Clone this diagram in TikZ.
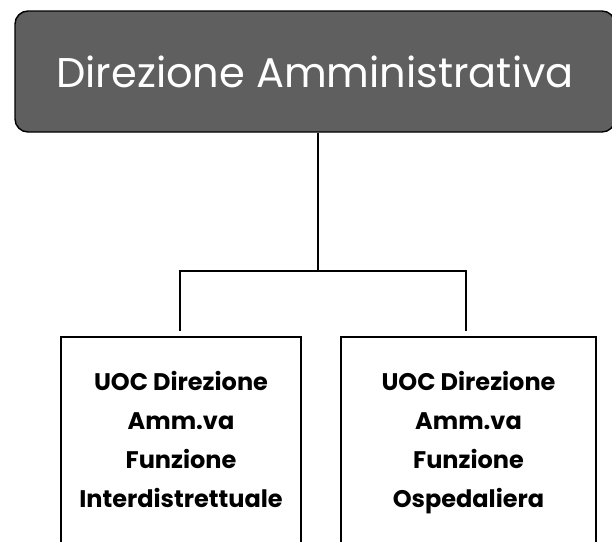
\documentclass[tikz,border=0pt]{standalone}
\usepackage{fontspec}
\setmainfont{Poppins}
\usetikzlibrary{calc}
\definecolor{headgray}{RGB}{95,95,95}
\begin{document}
	\begin{tikzpicture}[x=1pt, y=-1pt,
		head/.style={draw=black, line width=1.4pt, fill=headgray, rounded corners=13pt, text=white, minimum width=600pt, minimum height=121pt, font=\fontsize{41.5}{48}\selectfont},
		unit/.style={draw=black, line width=2pt, align=center, minimum height=216pt, font=\fontsize{24}{39}\selectfont\bfseries},
		link/.style={line width=1.5pt}]
%		\draw[help lines] (0,0) grid[step=50pt] (612,541);
		\useasboundingbox (0,0) rectangle (612,541);
		\node[head] (dir) at (315,71.5) {Direzione Amministrativa};
		\node[unit, minimum width=240pt] (uoc1) at (181,445) {UOC Direzione\\Amm.va\\Funzione\\Interdistrettuale\strut};
		\node[unit, minimum width=255pt] (uoc2) at (468.5,445) {UOC Direzione\\Amm.va\\Funzione\\Ospedaliera\strut};
		\coordinate (fork) at (318,271);
		\draw[link] (dir.south -| fork) -- (fork);
		\draw[link, shorten <=5pt, shorten >=5pt] ([xshift=-1pt]uoc1.north) |- (fork) -| ([xshift=-2.5pt]uoc2.north);
	\end{tikzpicture}
\end{document}
